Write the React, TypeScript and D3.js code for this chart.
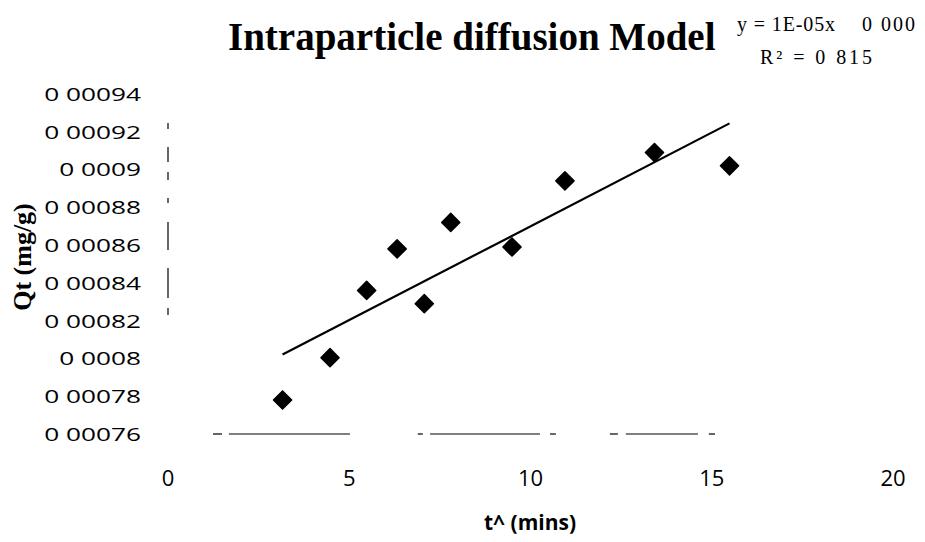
import React from "react";
import * as d3 from "d3";

// ---- data ----
const tHalf: number[] = [3.16, 4.47, 5.48, 6.32, 7.07, 7.8, 9.49, 10.95, 13.42, 15.49];
const qt: number[] = [0.000778, 0.0008004, 0.000836, 0.000858, 0.000829, 0.000872, 0.000859, 0.000894, 0.000909, 0.000902];
const yTickValues: number[] = [0.00076, 0.00078, 0.0008, 0.00082, 0.00084, 0.00086, 0.00088, 0.0009, 0.00092, 0.00094];
const yTickLabels: string[] = ["0 00076", "0 00078", "0 0008", "0 00082", "0 00084", "0 00086", "0 00088", "0 0009", "0 00092", "0 00094"];
const xTickValues: number[] = [0, 5, 10, 15, 20];
const xTickLabels: string[] = ["0", "5", "10", "15", "20"];
// broken (scanned) axis line pieces, in data units
const xAxisPieces: [number, number][] = [[1.24, 1.49], [1.68, 5.02], [6.89, 7.03], [7.23, 10.26], [10.54, 10.7], [12.19, 12.41], [12.63, 14.62], [14.92, 15.09]];
const yAxisPieces: [number, number][] = [[0.0009215, 0.0009246], [0.000904, 0.0009119], [0.0008945, 0.0008987], [0.0008823, 0.0008849], [0.0008574, 0.0008722], [0.000832, 0.0008479], [0.000823, 0.0008267]];

const title = "Intraparticle diffusion Model";
const eqLine1a = "y = 1E-05x";
const eqLine1b = "0 000";
const eqLine2 = "R² = 0 815";
const xTitle = "t^ (mins)";
const yTitle = "Qt (mg/g)";

export default function App() {
  const W = 925, H = 542;
  const x = d3.scaleLinear().domain([0, 20]).range([168, 893]);
  const y = d3.scaleLinear().domain([0.00076, 0.00094]).range([434, 94]);

  // least squares trendline
  const mx = d3.mean(tHalf)!;
  const my = d3.mean(qt)!;
  let sxy = 0, sxx = 0;
  tHalf.forEach((t, i) => { sxy += (t - mx) * (qt[i] - my); sxx += (t - mx) * (t - mx); });
  const slope = sxy / sxx;
  const icpt = my - slope * mx;
  const [x0, x1] = d3.extent(tHalf) as [number, number];
  const line = d3.line<number>().x((t) => x(t)).y((t) => y(icpt + slope * t));

  const diamond = d3.symbol().type(d3.symbolSquare).size(165)()!;
  const serif = "'Liberation Serif', 'Times New Roman', serif";
  const sans = "'Open Sans', 'DejaVu Sans', sans-serif";

  return (
    <svg width={W} height={H} viewBox={`0 0 ${W} ${H}`} style={{ position: "absolute", left: 0, top: 0, background: "#fff" }}>
      <rect x={0} y={0} width={W} height={H} fill="#fff" />
      <text x={228} y={50} fontFamily={serif} fontWeight="bold" fontSize={39} fill="#000">{title}</text>
      <text x={737} y={31} fontFamily={serif} fontSize={20} fill="#000" textLength={98} lengthAdjust="spacing">{eqLine1a}</text>
      <text x={862} y={31} fontFamily={serif} fontSize={20} fill="#000" textLength={53} lengthAdjust="spacing">{eqLine1b}</text>
      <text x={760} y={64} fontFamily={serif} fontSize={20} fill="#000" textLength={112} lengthAdjust="spacing">{eqLine2}</text>

      {yTickValues.map((v, i) => (
        <text key={"yt" + i} transform={`translate(141,${y(v)}) scale(1.38,1)`} dy="0.36em" textAnchor="end" fontFamily={sans} fontSize={19} fill="#000">{yTickLabels[i]}</text>
      ))}
      {xTickValues.map((v, i) => (
        <text key={"xt" + i} x={x(v)} y={486} textAnchor="middle" fontFamily={sans} fontSize={22} fill="#000">{xTickLabels[i]}</text>
      ))}
      <text x={530} y={530} textAnchor="middle" fontFamily={sans} fontWeight="bold" fontSize={21} fill="#000">{xTitle}</text>
      <text transform={`translate(31,257) rotate(-90)`} textAnchor="middle" fontFamily={serif} fontWeight="bold" fontSize={26} fill="#000">{yTitle}</text>

      {xAxisPieces.map(([a, b], i) => (
        <line key={"xa" + i} x1={x(a)} x2={x(b)} y1={y(0.00076)} y2={y(0.00076)} stroke="#000" strokeWidth={1.2} />
      ))}
      {yAxisPieces.map(([a, b], i) => (
        <line key={"ya" + i} x1={x(0)} x2={x(0)} y1={y(a)} y2={y(b)} stroke="#000" strokeWidth={1.2} />
      ))}

      <path d={line([x0, x1]) || ""} fill="none" stroke="#000" strokeWidth={2.2} />
      {tHalf.map((t, i) => (
        <path key={"p" + i} d={diamond} transform={`translate(${x(t)},${y(qt[i])}) rotate(45)`} fill="#000" stroke="#000" strokeWidth={1.5} strokeLinejoin="round" />
      ))}
    </svg>
  );
}
